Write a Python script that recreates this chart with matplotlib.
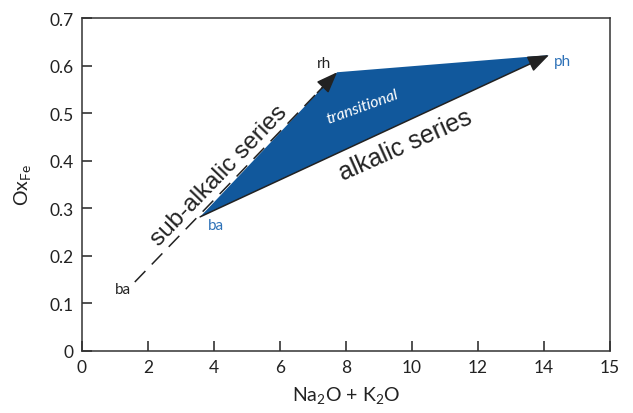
import numpy as np
import matplotlib.pyplot as plt

plt.rcParams['mathtext.fontset'] = 'custom'
plt.rcParams['mathtext.rm'] = 'Lato'
plt.rcParams['mathtext.it'] = 'Lato:italic'

# end points (Na2O + K2O, OxFe)
sub_x = [1.6, 7.73]
sub_y = [0.145, 0.586]
alk_x = [3.58, 14.15]
alk_y = [0.282, 0.622]
tri_x = [3.58, 7.73, 14.15]
tri_y = [0.282, 0.586, 0.622]

# the reference axis runs to 16 but its last tick reads "15"
xtick_pos = [0, 2, 4, 6, 8, 10, 12, 14, 16]
xtick_lab = ['0', '2', '4', '6', '8', '10', '12', '14', '15']
ytick_pos = [0, 0.1, 0.2, 0.3, 0.4, 0.5, 0.6, 0.7]
ytick_lab = ['0', '0.1', '0.2', '0.3', '0.4', '0.5', '0.6', '0.7']

blue = '#11589c'
label_blue = '#2e72b8'
ink = '#222222'

fig = plt.figure(figsize=(6.33, 4.14), dpi=100)
ax = fig.add_axes([0.1295, 0.1498, 0.8342, 0.8042])

ax.fill(tri_x, tri_y, color=blue, lw=0, zorder=1)

head = '-|>,head_length=1.3,head_width=0.5'

# sub-alkalic series: dashed line, solid arrow head at the end
ax.plot(sub_x, sub_y, color=ink, lw=1.1, dashes=(10, 6), zorder=2)
slope = (sub_y[1] - sub_y[0]) / (sub_x[1] - sub_x[0])
ax.annotate('', xy=(sub_x[1], sub_y[1]), xytext=(sub_x[1] - 0.6, sub_y[1] - 0.6 * slope),
            arrowprops=dict(arrowstyle=head, color=ink, lw=1.1, shrinkA=0, shrinkB=0), zorder=3)

# alkalic series: solid arrow
ax.annotate('', xy=(alk_x[1], alk_y[1]), xytext=(alk_x[0], alk_y[0]),
            arrowprops=dict(arrowstyle=head, color=ink, lw=1.1, shrinkA=0, shrinkB=0), zorder=3)

ax.text(1.24, 0.13, 'ba', fontsize=11, ha='center', va='center', color=ink, family='Lato')
ax.text(7.33, 0.605, 'rh', fontsize=11, ha='center', va='center', color=ink, family='Lato')
ax.text(14.55, 0.61, 'ph', fontsize=11, ha='center', va='center', color=label_blue, family='Lato')
ax.text(4.05, 0.265, 'ba', fontsize=11, ha='center', va='center', color=label_blue, family='Lato')

ax.text(4.15, 0.37, 'sub-alkalic series', fontsize=17.5, rotation=46, ha='center', va='center',
        color=ink, family='Liberation Sans', rotation_mode='anchor')
ax.text(9.8, 0.435, 'alkalic series', fontsize=18, rotation=24, ha='center', va='center',
        color=ink, family='Liberation Sans', rotation_mode='anchor')
ax.text(8.5, 0.515, 'transitional', fontsize=11.5, rotation=20, ha='center', va='center',
        color='white', style='italic', family='Lato', rotation_mode='anchor')

ax.set_xlim(0, 16)
ax.set_ylim(0, 0.7)
ax.set_xticks(xtick_pos)
ax.set_xticklabels(xtick_lab)
ax.set_yticks(ytick_pos)
ax.set_yticklabels(ytick_lab)
ax.tick_params(direction='in', length=7, width=1.1, labelsize=12.5, pad=6, colors=ink)
for lab in ax.get_xticklabels() + ax.get_yticklabels():
    lab.set_family('Lato')
for s in ax.spines.values():
    s.set_linewidth(1.1)
    s.set_color('#333333')

ax.set_xlabel('Na$_2$O + K$_2$O', fontsize=14, family='Lato', labelpad=6, color=ink)
ax.set_ylabel('Ox$_{\\mathrm{Fe}}$', fontsize=14, family='Lato', labelpad=12, color=ink)

fig.savefig('out.png', dpi=100)
